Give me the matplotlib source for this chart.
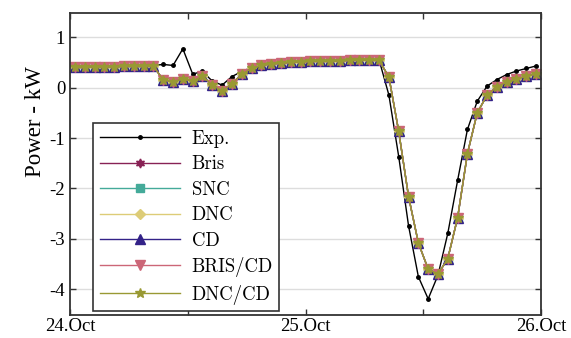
import pandas as pd
import matplotlib
matplotlib.use('Agg')
import matplotlib.pyplot as plt
import matplotlib.dates as mdates

# hourly values (kW), timestamps at half past each hour
times = pd.date_range('2023-10-24 00:30', periods=48, freq='h')

exp_vals = [0.41, 0.41, 0.42, 0.42, 0.42, 0.43, 0.43, 0.43, 0.44,
            0.46, 0.44, 0.77, 0.27, 0.32, 0.13, 0.05, 0.22, 0.32, 0.40,
            0.45, 0.48, 0.49, 0.50, 0.51, 0.52, 0.52, 0.53, 0.54, 0.55,
            0.56, 0.55, 0.55, -0.15, -1.37, -2.74, -3.75, -4.19, -3.72,
            -2.89, -1.84, -0.83, -0.27, 0.03, 0.16, 0.26, 0.33, 0.38, 0.43]

# the six models lie on top of each other in the figure
sim_vals = [0.40, 0.40, 0.41, 0.41, 0.41, 0.42, 0.42, 0.42, 0.43,
            0.15, 0.12, 0.17, 0.13, 0.23, 0.05, -0.06, 0.07, 0.27, 0.38,
            0.44, 0.47, 0.48, 0.50, 0.51, 0.52, 0.52, 0.52, 0.53, 0.54,
            0.55, 0.54, 0.54, 0.21, -0.87, -2.16, -3.08, -3.60, -3.70,
            -3.39, -2.58, -1.31, -0.50, -0.15, 0.02, 0.11, 0.17, 0.23, 0.27]

bris = sim_vals
snc = sim_vals
dnc = sim_vals
cd = sim_vals
bris_cd = sim_vals
dnc_cd = sim_vals

labels = ['Bris', 'SNC', 'DNC', 'CD', 'BRIS/CD', 'DNC/CD']
series = [bris, snc, dnc, cd, bris_cd, dnc_cd]
colors = ['#882255', '#44AA99', '#DDCC77', '#332288', '#CC6677', '#999933']
markers = [(6, 1, 0), 's', 'D', '^', 'v', '*']
msizes = [6.5, 5.5, 5.5, 6.5, 6.5, 7.5]

plt.rcParams['axes.unicode_minus'] = False

fig = plt.figure(figsize=(5.71, 3.38), dpi=100)
ax = fig.add_axes([0.1226, 0.068, 0.8249, 0.8935])

ax.plot(times, exp_vals, color='black', marker='o', markersize=2.5, lw=1.0, label='Exp.')
for name, vals, c, m, ms in zip(labels, series, colors, markers, msizes):
    ax.plot(times, vals, color=c, marker=m, markersize=ms, lw=1.0, label=name)

ax.set_xlim(pd.Timestamp('2023-10-24'), pd.Timestamp('2023-10-26'))
ax.set_ylim(-4.51, 1.48)
ax.set_yticks([-4, -3, -2, -1, 0, 1])
ax.xaxis.set_major_locator(mdates.DayLocator())
ax.xaxis.set_minor_locator(mdates.HourLocator(byhour=[12]))
ax.xaxis.set_major_formatter(mdates.DateFormatter('%d.%b'))
ax.grid(axis='y', color='#dddddd', lw=1.0)
ax.set_axisbelow(True)
ax.tick_params(which='both', direction='in', top=True, right=True, length=4, width=1, color='#333333')
for lab in ax.get_xticklabels() + ax.get_yticklabels():
    lab.set_family('Liberation Serif')
    lab.set_fontsize(13.5)
for sp in ax.spines.values():
    sp.set_linewidth(1.3)
    sp.set_color('#333333')
ax.tick_params(axis='x', pad=2)

ax.set_ylabel('Power - kW', family='Liberation Serif', fontsize=16.5)
ax.yaxis.set_label_coords(-0.05, 0.64)

leg = ax.legend(loc='lower left', bbox_to_anchor=(0.049, 0.013), borderaxespad=0,
                prop={'family': 'cmr10', 'size': 13.5},
                handlelength=4.3, fancybox=False, edgecolor='#333333', framealpha=1,
                borderpad=0.35, labelspacing=0.4, handletextpad=0.6)
leg.get_frame().set_linewidth(1.2)

fig.savefig('out.png', dpi=100)
